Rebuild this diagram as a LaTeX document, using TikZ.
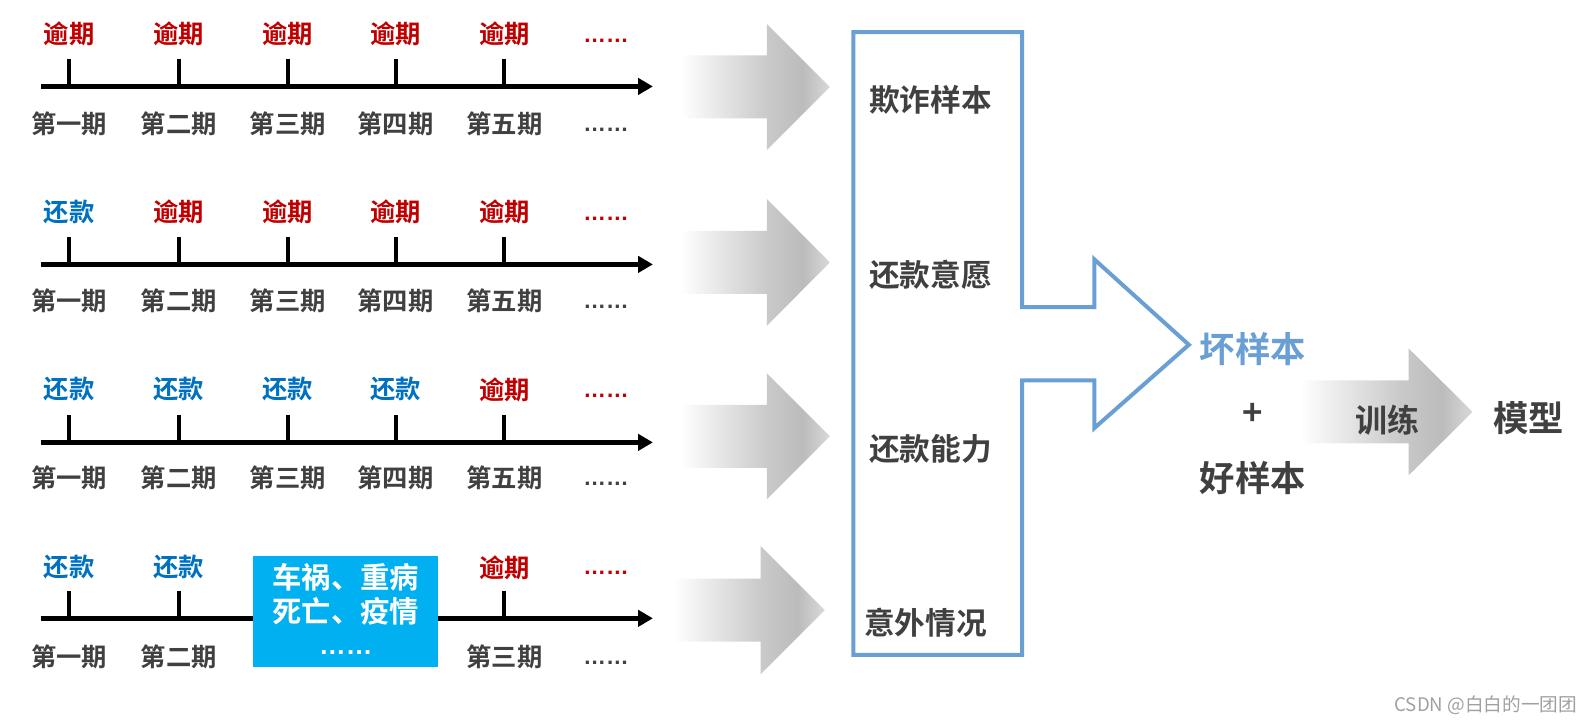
\documentclass[tikz,border=0pt]{standalone}
\usepackage{fontspec}
\setmainfont{Noto Sans CJK SC}[BoldFont={Noto Sans CJK SC Bold}]
\newfontfamily\latinf{Liberation Sans}
\usetikzlibrary{arrows.meta}
\definecolor{redlab}{HTML}{C00000}
\definecolor{bluelab}{HTML}{0070C0}
\definecolor{txt}{HTML}{404040}
\definecolor{outl}{HTML}{6A9FD4}
\definecolor{cyanbox}{HTML}{00B0F0}
\definecolor{wm}{HTML}{A0A0A0}
\pgfdeclarehorizontalshading{grayarrow}{100bp}{color(0bp)=(white); color(25bp)=(white); color(54bp)=(gray!42); color(66bp)=(gray!53); color(75bp)=(gray!30); color(100bp)=(gray!30)}
\newcommand\grayarr[6]{%
  \path[shading=grayarrow] ({#1},{#4-#5}) -- ({#2},{#4-#5}) -- ({#2},{#4-#6}) -- ({#3},{#4}) -- ({#2},{#4+#6}) -- ({#2},{#4+#5}) -- ({#1},{#4+#5}) -- cycle;}
\tikzset{
  lab/.style={font=\fontsize{19}{19}\selectfont\bfseries, inner sep=0pt},
  overdue/.style={lab, text=redlab},
  repay/.style={lab, text=bluelab},
  period/.style={lab, text=txt},
  dotsr/.style={font=\latinf\fontsize{17}{17}\selectfont\bfseries, inner sep=0pt, anchor=base, text=redlab},
  dotsg/.style={font=\latinf\fontsize{17}{17}\selectfont\bfseries, inner sep=0pt, anchor=base, text=txt},
  axisline/.style={line width=3.6pt, -{Triangle[length=11pt,width=12pt]}},
  tickline/.style={line width=3pt},
  midlab/.style={font=\fontsize{23}{23}\selectfont\bfseries, inner sep=0pt, text=txt},
  biglab/.style={font=\fontsize{26.5}{26.5}\selectfont\bfseries, inner sep=0pt},
  evtlab/.style={font=\fontsize{22}{22}\selectfont\bfseries, inner sep=0pt, text=white},
}
\begin{document}
\begin{tikzpicture}[x=0.76275pt, y=-0.76275pt]
\useasboundingbox (0,0) rectangle (1566.4,711);
% ---------- timelines ----------
\foreach \r/\yy in {1/85, 2/260, 3/435, 4/608} {
  \coordinate (a\r s) at (40,\yy);
  \coordinate (a\r e) at (642,\yy);
  \draw[axisline] (a\r s) -- (a\r e);
}
% ticks rows 1-3
\foreach \r/\yy in {1/85, 2/260, 3/435} {
  \foreach \i/\xx in {1/68, 2/176, 3/283, 4/389, 5/496} {
    \coordinate (t\r\i b) at (\xx,\yy);
    \coordinate (t\r\i t) at (\xx,\yy-27);
    \draw[tickline] (t\r\i b) -- (t\r\i t);
  }
}
% ticks row 4
\foreach \i/\xx in {1/68, 2/176, 5/496} {
  \coordinate (t4\i b) at (\xx,608);
  \coordinate (t4\i t) at (\xx,581);
  \draw[tickline] (t4\i b) -- (t4\i t);
}
% row 1 labels
\node[overdue] (r1l1) at (68,33) {逾期};
\node[overdue] (r1l2) at (176,33) {逾期};
\node[overdue] (r1l3) at (283,33) {逾期};
\node[overdue] (r1l4) at (389,33) {逾期};
\node[overdue] (r1l5) at (496,33) {逾期};
\node[dotsr] (r1d) at (596,42) {……};
\node[period] (r1p1) at (68,122) {第一期};
\node[period] (r1p2) at (176,122) {第二期};
\node[period] (r1p3) at (283,122) {第三期};
\node[period] (r1p4) at (389,122) {第四期};
\node[period] (r1p5) at (496,122) {第五期};
\node[dotsg] (r1e) at (596,129) {……};
% row 2 labels
\node[repay] (r2l1) at (68,208) {还款};
\node[overdue] (r2l2) at (176,208) {逾期};
\node[overdue] (r2l3) at (283,208) {逾期};
\node[overdue] (r2l4) at (389,208) {逾期};
\node[overdue] (r2l5) at (496,208) {逾期};
\node[dotsr] (r2d) at (596,217) {……};
\node[period] (r2p1) at (68,296) {第一期};
\node[period] (r2p2) at (176,296) {第二期};
\node[period] (r2p3) at (283,296) {第三期};
\node[period] (r2p4) at (389,296) {第四期};
\node[period] (r2p5) at (496,296) {第五期};
\node[dotsg] (r2e) at (596,303) {……};
% row 3 labels
\node[repay] (r3l1) at (68,383) {还款};
\node[repay] (r3l2) at (176,383) {还款};
\node[repay] (r3l3) at (283,383) {还款};
\node[repay] (r3l4) at (389,383) {还款};
\node[overdue] (r3l5) at (496,383) {逾期};
\node[dotsr] (r3d) at (596,391) {……};
\node[period] (r3p1) at (68,470) {第一期};
\node[period] (r3p2) at (176,470) {第二期};
\node[period] (r3p3) at (283,470) {第三期};
\node[period] (r3p4) at (389,470) {第四期};
\node[period] (r3p5) at (496,470) {第五期};
\node[dotsg] (r3e) at (596,477) {……};
% row 4 labels
\node[repay] (r4l1) at (68,558) {还款};
\node[repay] (r4l2) at (176,558) {还款};
\node[overdue] (r4l5) at (496,558) {逾期};
\node[dotsr] (r4d) at (596,565) {……};
\node[period] (r4p1) at (68,646) {第一期};
\node[period] (r4p2) at (176,646) {第二期};
\node[period] (r4p3) at (496,646) {第三期};
\node[dotsg] (r4e) at (596,653) {……};
% event box
\node[fill=cyanbox, inner sep=0pt, minimum width=138.8pt, minimum height=83.1pt] (evt) at (340,601.5) {};
\node[evtlab] (evt1) at (340,568) {车祸、重病};
\node[evtlab] (evt2) at (340,601) {死亡、疫情};
\node[font=\latinf\fontsize{20}{20}\selectfont\bfseries, inner sep=0pt, anchor=base, text=white] (evt3) at (340,644) {……};
% ---------- gray arrows ----------
\grayarr{669}{754}{816}{85.5}{31}{62}
\grayarr{669}{754}{816}{258}{31}{62.5}
\grayarr{669}{754}{816}{429}{31}{62}
\grayarr{662}{748}{811}{600}{31}{63}
% ---------- outlined big arrow ----------
\draw[outl, line width=3pt, line join=miter]
  (839,31.5) -- (1005,31.5) -- (1005,302) -- (1076,302) -- (1076,255)
  -- (1169,339) -- (1076,421) -- (1076,374) -- (1005,374) -- (1005,644)
  -- (839,644) -- cycle;
\node[midlab] (m1) at (915,98) {欺诈样本};
\node[midlab] (m2) at (915,270) {还款意愿};
\node[midlab] (m3) at (915,441) {还款能力};
\node[midlab] (m4) at (910,612) {意外情况};
% ---------- right part ----------
\grayarr{1278}{1385}{1448}{405}{31}{62.5}
\node[biglab, text=outl] (bad) at (1232,343) {坏样本};
\node[font=\fontsize{26}{26}\selectfont\bfseries, inner sep=0pt, text=txt] (plus) at (1232,407) {+};
\node[biglab, text=txt] (good) at (1232,470) {好样本};
\node[font=\fontsize{24}{24}\selectfont\bfseries, inner sep=0pt, text=txt] (train) at (1364,413) {训练};
\node[biglab, text=txt] (model) at (1503,411) {模型};
% watermark
\node[font=\fontsize{14}{14}\selectfont, inner sep=0pt, text=wm] (wmk) at (1461,693) {CSDN @白白的一团团};
\end{tikzpicture}
\end{document}
